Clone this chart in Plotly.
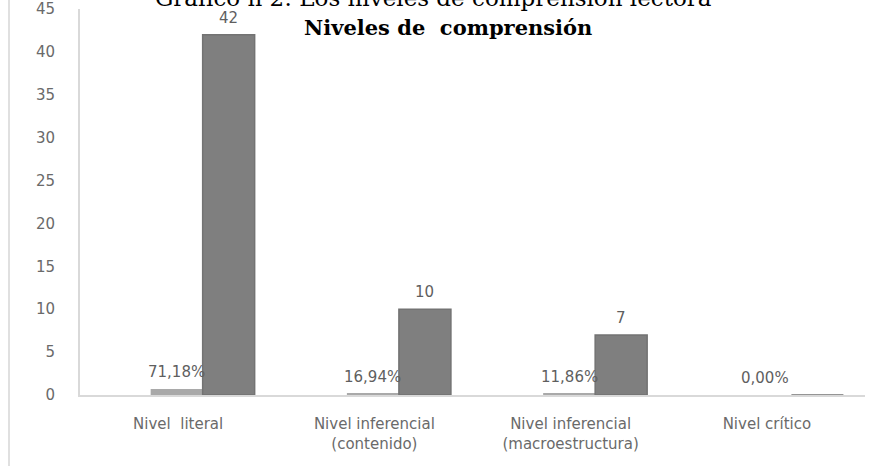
import plotly.graph_objects as go

# ---- data ----
categorias = ["Nivel  literal", "Nivel inferencial<br>(contenido)",
              "Nivel inferencial<br>(macroestructura)", "Nivel crítico"]
porcentajes = [0.7118, 0.1694, 0.1186, 0.0]
etiquetas_pct = ["71,18%", "16,94%", "11,86%", "0,00%"]
cantidades = [42, 10, 7, 0]
etiquetas_cnt = ["42", "10", "7", ""]
y_ticks = [0, 5, 10, 15, 20, 25, 30, 35, 40, 45]

titulo_sup = "Gráfico n 2: Los niveles de comprensión lectora"
titulo = "Niveles de  comprensión"

# ---- styling ----
OFF_PCT, OFF_CNT, W = -0.14, 0.125, 0.265
TICK_FONT = dict(family="DejaVu Sans", size=15, color="#6a6a6a")
LABEL_FONT = dict(family="DejaVu Sans", size=15, color="#5f5f5f")

fig = go.Figure()
fig.add_trace(go.Bar(
    x=categorias, y=porcentajes, offset=OFF_PCT, width=W,
    marker=dict(color="#a9a9a9", line=dict(width=0)),
    name="Porcentaje", cliponaxis=False))
fig.add_trace(go.Bar(
    x=categorias, y=cantidades, offset=OFF_CNT, width=W,
    marker=dict(color="#7f7f7f", line=dict(color="#737373", width=1.5)),
    name="Cantidad", cliponaxis=False))

annotations = []
for i, (v, t) in enumerate(zip(porcentajes, etiquetas_pct)):
    annotations.append(dict(x=i + OFF_PCT + W / 2, y=v, xref="x", yref="y",
                            text=t, showarrow=False, yanchor="bottom",
                            yshift=6, font=LABEL_FONT))
for i, (v, t) in enumerate(zip(cantidades, etiquetas_cnt)):
    if t:
        annotations.append(dict(x=i + OFF_CNT + W / 2, y=v, xref="x", yref="y",
                                text=t, showarrow=False, yanchor="bottom",
                                yshift=6, font=LABEL_FONT))

annotations.append(dict(x=0.469, y=1 - 19 / 386, xref="paper", yref="paper",
                        text="<b>" + titulo + "</b>", showarrow=False,
                        xanchor="center", yanchor="middle",
                        font=dict(family="DejaVu Serif", size=21, color="#000")))
annotations.append(dict(x=0.45, y=1, xref="paper", yref="paper",
                        text=titulo_sup, showarrow=False,
                        xanchor="center", yanchor="bottom", yshift=-4,
                        font=dict(family="DejaVu Serif", size=23, color="#000")))

fig.update_layout(
    width=874, height=466,
    margin=dict(l=80, r=9, t=9, b=71, autoexpand=False),
    paper_bgcolor="white", plot_bgcolor="white",
    barmode="overlay", showlegend=False,
    annotations=annotations,
    shapes=[dict(type="line", xref="paper", yref="paper",
                 x0=-71 / 785, x1=-71 / 785, y0=-71 / 386, y1=1 + 9 / 386,
                 line=dict(color="#e0e0e0", width=2))],
)
fig.update_xaxes(
    type="category", range=[-0.5, 3.5], automargin=False,
    showline=True, linecolor="#d9d9d9", linewidth=2,
    showgrid=False, ticks="", tickfont=TICK_FONT,
    ticklabelstandoff=14, zeroline=False)
fig.update_yaxes(
    range=[0, 45], tickvals=y_ticks, automargin=False,
    showline=True, linecolor="#d9d9d9", linewidth=2,
    showgrid=False, zeroline=False, ticks="", tickfont=TICK_FONT,
    ticklabelstandoff=20)

fig.write_html("out.html")
